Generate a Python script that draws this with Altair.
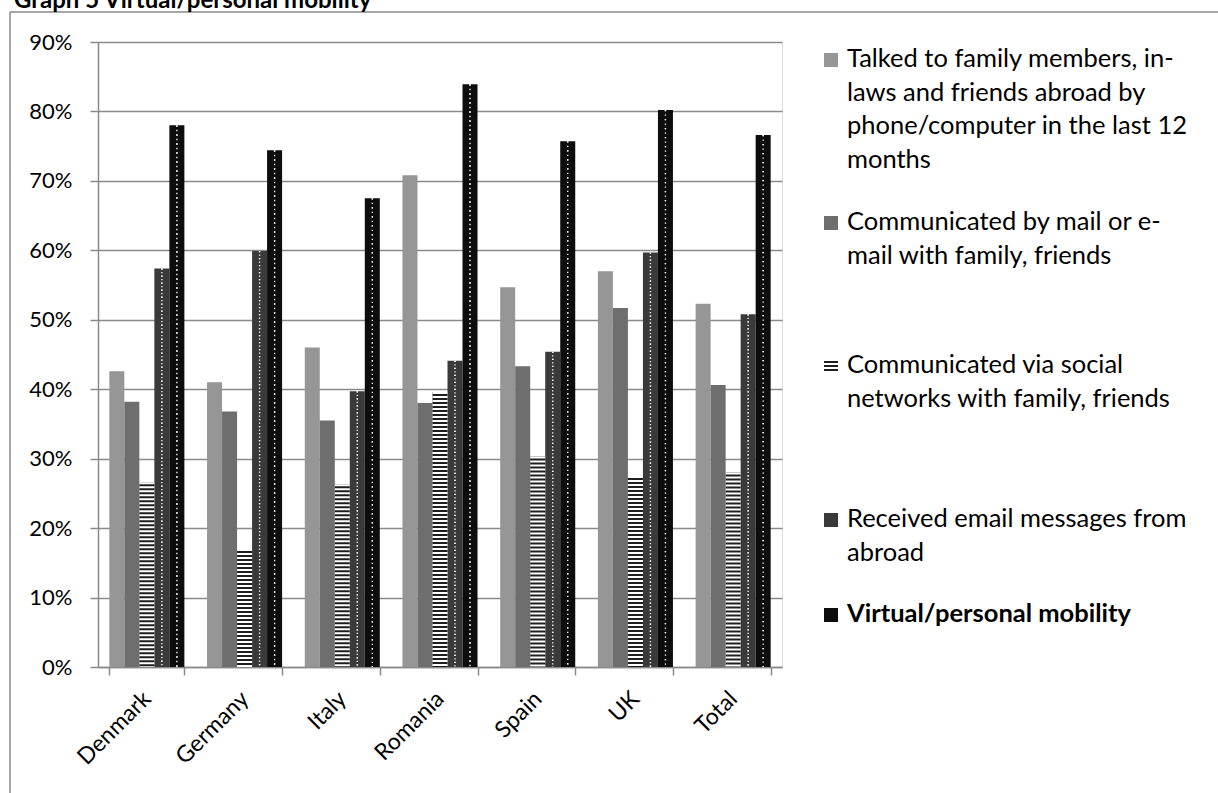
import altair as alt
import pandas as pd

# ---- data ----
countries = ["Denmark", "Germany", "Italy", "Romania", "Spain", "UK", "Total"]
series_names = [
    "Talked to family members, in-laws and friends abroad by phone/computer in the last 12 months",
    "Communicated by mail or e-mail with family, friends",
    "Communicated via social networks with family, friends",
    "Received email messages from abroad",
    "Virtual/personal mobility",
]
talked = [42.6, 41.0, 46.0, 70.8, 54.7, 57.0, 52.3]
mail = [38.2, 36.8, 35.5, 38.0, 43.3, 51.7, 40.6]
social = [26.6, 17.0, 26.3, 39.6, 30.3, 27.5, 28.0]
received = [57.4, 59.9, 39.7, 44.1, 45.4, 59.7, 50.8]
virtual = [78.0, 74.4, 67.5, 83.9, 75.7, 80.2, 76.6]
y_ticks = [0, 10, 20, 30, 40, 50, 60, 70, 80, 90]

legend_labels = [
    "Talked to family members, in-\nlaws and friends abroad by\nphone/computer in the last 12\nmonths",
    "Communicated by mail or e-\nmail with family, friends",
    "Communicated via social\nnetworks with family, friends",
    "Received email messages from\nabroad",
    "Virtual/personal mobility",
]
title_text = "Graph 5 Virtual/personal mobility"

# ---- styling / layout ----
fills = ["#969696", "#6e6e6e", "#1e1e1e", "#3a3a3a", "#0d0d0d"]
legend_fills = ["#969696", "#6e6e6e", "#1e1e1e", "#3a3a3a", "#0d0d0d"]
legend_baseline = [25, 188, 331, 485, 580]  # pixel rows (relative to plot top)
gray = "#8a8a8a"
FONT = "Lato"
FS = 22
LFS = 25.5
PLOT_W, PLOT_H = 684, 625
PAD = {"left": 98, "top": 42, "right": 1218 - 98 - PLOT_W, "bottom": 793 - 42 - PLOT_H}

values_by_series = [talked, mail, social, received, virtual]
rows = []
for s, vals in zip(series_names, values_by_series):
    for c, v in zip(countries, vals):
        rows.append({"country": c, "series": s, "value": v})
df = pd.DataFrame(rows)

x_enc = alt.X(
    "country:N",
    sort=countries,
    scale=alt.Scale(paddingInner=0.232, paddingOuter=0.116),
    axis=alt.Axis(
        title=None, labelAngle=-45, labelAlign="right", labelBaseline="middle",
        labelFont=FONT, labelFontSize=23, labelColor="black", labelPadding=20,
        tickBand="extent", tickSize=8, tickColor=gray, tickWidth=1.5,
        domainColor=gray, domainWidth=1.5, grid=False,
    ),
)
xo_enc = alt.XOffset("series:N", sort=series_names,
                     scale=alt.Scale(domain=series_names, paddingInner=0, paddingOuter=0))
y_enc = alt.Y(
    "value:Q",
    scale=alt.Scale(domain=[0, 90], nice=False),
    axis=alt.Axis(
        title=None, values=y_ticks, labelExpr="datum.value + '%'",
        labelFont=FONT, labelFontSize=FS, labelColor="black", labelPadding=18,
        tickSize=8, tickColor=gray, tickWidth=1.5,
        domainColor=gray, domainWidth=1.5,
        grid=True, gridColor=gray, gridWidth=1.5,
    ),
)

base = alt.Chart(df)
bars = base.mark_bar().encode(
    x=x_enc, xOffset=xo_enc, y=y_enc,
    color=alt.Color("series:N", scale=alt.Scale(domain=series_names, range=fills), legend=None),
)

# horizontal stripe texture for the social-network series
stripes = base.transform_filter(alt.datum.series == series_names[2]).mark_rule(
    color="white", strokeWidth=15, strokeDash=[2, 2]
).encode(x=alt.X("country:N", sort=countries), xOffset=xo_enc,
         y=alt.Y("value:Q"), y2=alt.datum(0))

# dotted texture for the last two series
dot_layers = []
for idx, step in [(3, 3.5), (4, 4.5)]:
    for k, off in enumerate([-step, 0, step]):
        dot_layers.append(
            base.transform_filter(alt.datum.series == series_names[idx]).mark_rule(
                color="white", strokeWidth=1.3, strokeDash=[1.3, step * 2 - 1.3],
                strokeDashOffset=(k % 2) * step, xOffset=off,
            ).encode(x=alt.X("country:N", sort=countries), xOffset=xo_enc,
                     y=alt.Y("value:Q"), y2=alt.datum(0))
        )

leg_df = pd.DataFrame({
    "label": legend_labels,
    "series": series_names,
    "ly": legend_baseline,
    "sy": [b - 7 for b in legend_baseline],
    "st": [b - 14 for b in legend_baseline],
})
leg_base = alt.Chart(leg_df)
leg_sw = leg_base.mark_square(size=196, opacity=1, filled=True).encode(
    x=alt.value(733), y=alt.Y("sy:Q", scale=None),
    color=alt.Color("series:N", scale=alt.Scale(domain=series_names, range=legend_fills), legend=None),
)
leg_sw_stripes = leg_base.transform_filter(alt.datum.series == series_names[2]).mark_rule(
    color="white", strokeWidth=14, strokeDash=[2, 2]
).encode(x=alt.value(733), y=alt.Y("st:Q", scale=None), y2=alt.Y2("ly:Q"))
leg_txt = leg_base.transform_filter(alt.datum.series != series_names[4]).mark_text(
    align="left", baseline="alphabetic", font=FONT, fontSize=LFS, lineBreak="\n",
    lineHeight=33.5, color="black",
).encode(x=alt.value(749), y=alt.Y("ly:Q", scale=None), text="label:N")
leg_txt_bold = leg_base.transform_filter(alt.datum.series == series_names[4]).mark_text(
    align="left", baseline="alphabetic", font=FONT, fontSize=LFS, fontWeight="bold", color="black",
).encode(x=alt.value(749), y=alt.Y("ly:Q", scale=None), text="label:N")

title = alt.Chart(pd.DataFrame({"t": [title_text]})).mark_text(
    align="left", baseline="alphabetic", font=FONT, fontSize=24, fontWeight="bold", color="black"
).encode(x=alt.value(14 - 98), y=alt.value(8 - 42), text="t:N")

border_top = alt.Chart(pd.DataFrame({"a": [0]})).mark_rule(color=gray, strokeWidth=1.5).encode(
    x=alt.value(10 - 98), x2=alt.value(1218 - 98), y=alt.value(12 - 42))
border_left = alt.Chart(pd.DataFrame({"a": [0]})).mark_rule(color=gray, strokeWidth=1.5).encode(
    x=alt.value(10 - 98), y=alt.value(12 - 42), y2=alt.value(793 - 42))

chart = alt.layer(
    border_top, border_left, title, bars, stripes, *dot_layers,
    leg_sw, leg_sw_stripes, leg_txt, leg_txt_bold
).properties(
    width=PLOT_W, height=PLOT_H, padding=PAD, autosize="none",
).configure_view(stroke=None).configure(background="white")

chart.save("out.html", embed_options={"renderer": "svg", "actions": False})
